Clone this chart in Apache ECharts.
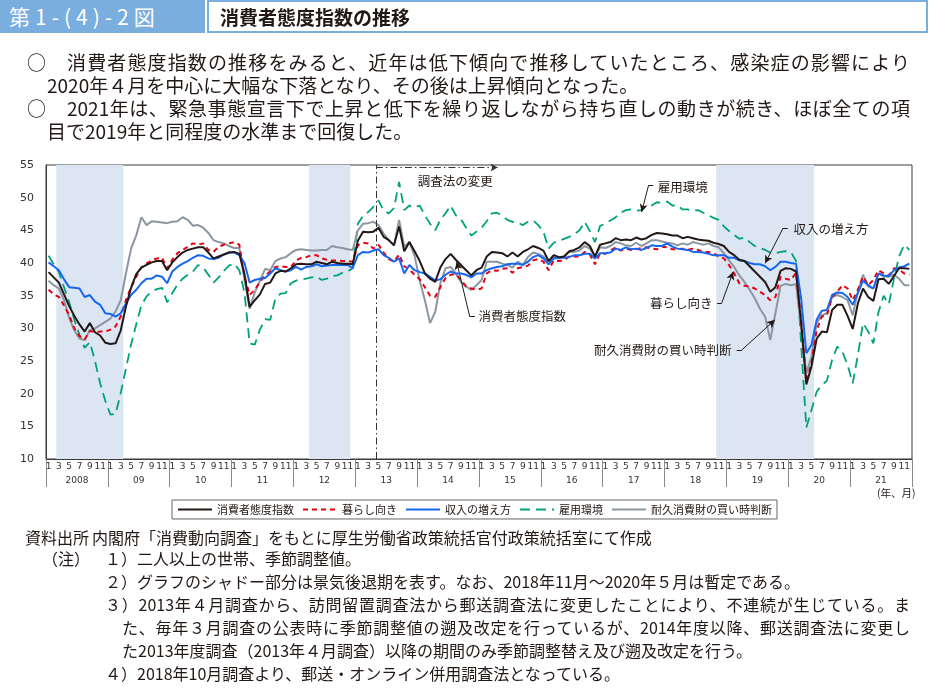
<!DOCTYPE html>
<html lang="ja">
<head>
<meta charset="utf-8">
<script src="https://cdn.jsdelivr.net/npm/echarts@6/dist/echarts.min.js"></script>
<style>
  html, body { margin: 0; padding: 0; background: #fff; }
  #page { position: relative; width: 932px; height: 698px; overflow: hidden; font-family: "Noto Sans CJK JP", "Noto Sans", sans-serif; color: #231815; }
  #chart { position: absolute; left: 0; top: 0; width: 932px; height: 698px; }
  .t { position: absolute; white-space: nowrap; }
  .body { font-size: 19px; line-height: 23px; }
  .just { text-align: justify; text-align-last: justify; white-space: normal; }
  .note { font-size: 16px; line-height: 23px; }
</style>
</head>
<body>
<div id="page">
  <div id="chart"></div>

  <div class="t" style="left:0;top:0;width:205px;height:33px;background:#7aaede;color:#fff;font-size:21px;line-height:33px;padding-left:9px;box-sizing:border-box;letter-spacing:5px;">第1-(4)-2図</div>
  <div class="t" style="left:207px;top:0;width:721px;height:33px;border:2px solid #7aaede;box-sizing:border-box;font-size:19px;font-weight:bold;line-height:29px;padding-left:11px;">消費者態度指数の推移</div>

  <div class="t body" style="left:27px;top:50px;">○</div>
  <div class="t body just" style="left:67px;top:50px;width:843px;">消費者態度指数の推移をみると、近年は低下傾向で推移していたところ、感染症の影響により</div>
  <div class="t body" style="left:47px;top:73px;">2020年４月を中心に大幅な下落となり、その後は上昇傾向となった。</div>
  <div class="t body" style="left:27px;top:96px;">○</div>
  <div class="t body just" style="left:67px;top:96px;width:843px;">2021年は、緊急事態宣言下で上昇と低下を繰り返しながら持ち直しの動きが続き、ほぼ全ての項</div>
  <div class="t body" style="left:47px;top:119px;">目で2019年と同程度の水準まで回復した。</div>

  <div class="t" style="left:877px;top:486px;font-size:10.5px;line-height:14px;">(年、月)</div>

  <div class="t note" style="left:25px;top:526px;">資料出所</div>
  <div class="t note" style="left:92px;top:526px;">内閣府「消費動向調査」をもとに厚生労働省政策統括官付政策統括室にて作成</div>
  <div class="t note" style="left:42px;top:547px;">（注）</div>
  <div class="t note" style="left:105px;top:547px;">１）二人以上の世帯、季節調整値。</div>
  <div class="t note" style="left:105px;top:570px;">２）グラフのシャドー部分は景気後退期を表す。なお、2018年11月～2020年５月は暫定である。</div>
  <div class="t note just" style="left:105px;top:593px;width:805px;">３）2013年４月調査から、訪問留置調査法から郵送調査法に変更したことにより、不連続が生じている。ま</div>
  <div class="t note just" style="left:122px;top:616px;width:788px;">た、毎年３月調査の公表時に季節調整値の遡及改定を行っているが、2014年度以降、郵送調査法に変更し</div>
  <div class="t note" style="left:122px;top:639px;">た2013年度調査（2013年４月調査）以降の期間のみ季節調整替え及び遡及改定を行う。</div>
  <div class="t note" style="left:105px;top:662px;">４）2018年10月調査より、郵送・オンライン併用調査法となっている。</div>
</div>

<script>
// ---------------- data ----------------
const yearLabels = ['2008','09','10','11','12','13','14','15','16','17','18','19','20','21'];
const firstYear = 2008;
const monthNames = ['1','2','3','4','5','6','7','8','9','10','11','12'];

// 消費者態度指数
const sentiment = [
  38.6, 37.8, 37.0, 35.2, 33.4, 31.9, 30.6, 29.5, 30.8, 29.4, 28.9, 27.8,
  27.6, 27.7, 29.7, 33.3, 36.2, 38.3, 39.3, 39.7, 40.1, 40.3, 40.3, 38.9,
  40.1, 40.9, 41.6, 42.0, 42.2, 42.4, 42.4, 41.6, 40.7, 41.0, 41.3, 41.6,
  41.7, 41.4, 38.3, 33.3, 34.3, 35.2, 36.8, 37.0, 38.4, 38.8, 38.7, 39.2,
  39.8, 39.9, 39.8, 39.8, 40.2, 40.0, 39.8, 40.2, 40.0, 39.9, 39.9, 39.8,
  43.4, 44.8, 44.7, 44.8, 45.4, 44.0, 43.5, 42.7, 45.6, 41.8, 43.2, 41.8,
  40.3, 38.4, 37.6, 37.1, 39.3, 40.6, 41.4, 40.5, 39.7, 38.9, 38.1, 38.9,
  39.3, 41.0, 41.7, 41.6, 41.5, 41.0, 41.6, 41.0, 41.7, 42.1, 42.6, 42.3,
  41.9, 40.3, 41.2, 40.9, 41.0, 41.8, 42.0, 42.4, 43.2, 42.6, 41.0, 42.8,
  43.0, 43.2, 43.8, 43.5, 43.6, 43.5, 43.9, 43.6, 43.8, 44.3, 44.6, 44.5,
  44.4, 44.2, 44.2, 43.8, 44.0, 43.8, 43.6, 43.5, 43.4, 43.1, 42.9, 42.6,
  41.7, 41.2, 40.5, 40.3, 39.5, 38.7, 37.9, 37.1, 35.6, 36.3, 38.8, 39.2,
  39.1, 38.7, 30.8, 21.4, 24.2, 28.4, 29.5, 29.4, 32.8, 33.6, 33.6, 31.9,
  29.9, 33.8, 36.1, 34.8, 34.2, 37.5, 37.6, 36.8, 38.0, 39.2, 39.2, 39.1
];
// 暮らし向き
const livelihood = [
  35.9, 35.2, 34.8, 33.5, 32.0, 30.0, 28.8, 28.3, 29.6, 29.4, 29.5, 29.5,
  29.8, 30.3, 31.8, 34.3, 36.3, 37.9, 39.3, 39.9, 40.4, 40.7, 40.8, 39.2,
  40.5, 41.5, 42.0, 42.5, 43.0, 42.8, 43.0, 42.0, 41.7, 42.5, 42.8, 43.0,
  43.2, 42.8, 38.0, 35.1, 35.9, 37.1, 38.1, 38.7, 39.4, 39.5, 39.4, 39.4,
  40.4, 40.8, 40.9, 41.2, 41.2, 40.7, 40.5, 40.4, 40.4, 40.3, 40.3, 40.2,
  42.7, 43.1, 43.0, 42.2, 42.8, 41.6, 40.6, 40.2, 41.3, 39.5, 39.0, 38.2,
  37.5, 36.3, 35.0, 34.8, 36.3, 37.7, 38.2, 38.3, 37.4, 36.4, 36.1, 35.9,
  36.1, 38.4, 38.9, 38.8, 39.1, 39.2, 38.5, 39.2, 39.4, 39.6, 40.4, 40.6,
  40.2, 38.9, 40.4, 40.3, 40.4, 41.0, 41.0, 41.0, 41.7, 41.3, 39.8, 41.5,
  41.4, 41.9, 42.4, 41.9, 42.2, 42.0, 42.1, 42.3, 42.4, 42.2, 42.1, 42.5,
  42.4, 42.1, 42.1, 42.2, 42.0, 42.2, 42.0, 41.7, 41.7, 41.5, 41.0, 40.7,
  39.7, 38.4, 36.9, 36.5, 36.4, 36.1, 35.6, 35.1, 34.3, 34.8, 37.9, 37.6,
  37.4, 38.5, 31.3, 21.8, 24.7, 29.7, 31.8, 32.0, 34.8, 35.6, 36.6, 36.1,
  34.3, 35.9, 37.9, 36.6, 37.4, 38.9, 38.4, 38.1, 39.2, 39.0, 38.4, 38.2
];
// 収入の増え方
const income = [
  40.1, 39.5, 38.9, 37.5, 36.3, 36.2, 36.1, 34.8, 35.1, 34.1, 33.6, 32.3,
  32.2, 31.8, 32.3, 33.8, 35.1, 35.9, 36.9, 37.6, 37.6, 38.1, 37.9, 36.9,
  38.7, 39.4, 39.9, 40.3, 40.8, 41.2, 41.1, 40.7, 40.6, 40.8, 41.3, 41.6,
  41.6, 41.2, 40.0, 37.0, 37.4, 37.6, 37.7, 38.4, 39.2, 38.9, 38.7, 38.9,
  39.4, 39.0, 39.4, 39.5, 39.8, 39.5, 39.6, 39.7, 39.7, 39.7, 39.7, 39.2,
  41.2, 41.7, 41.6, 41.9, 42.1, 41.2, 40.8, 40.2, 40.7, 38.4, 39.7, 38.9,
  38.6, 38.4, 37.9, 37.3, 37.5, 38.2, 38.7, 38.4, 38.4, 38.2, 37.8, 38.4,
  38.4, 38.9, 39.2, 39.4, 39.5, 39.8, 39.9, 39.9, 39.7, 40.2, 40.9, 41.2,
  40.7, 39.8, 40.7, 40.8, 40.8, 40.9, 41.2, 41.2, 41.4, 41.4, 40.7, 41.5,
  41.5, 41.6, 42.2, 42.0, 42.4, 42.1, 42.2, 42.0, 42.3, 42.7, 42.6, 42.6,
  43.0, 42.5, 42.2, 42.1, 42.0, 41.7, 41.7, 41.6, 41.4, 41.2, 41.2, 41.2,
  40.8, 40.8, 40.4, 40.3, 40.0, 39.8, 39.8, 39.5, 38.9, 39.4, 40.2, 40.2,
  40.0, 39.9, 34.5, 26.2, 27.5, 31.3, 32.7, 32.8, 35.1, 35.5, 35.4, 34.8,
  33.6, 35.4, 37.3, 36.6, 36.1, 38.4, 38.1, 38.0, 38.9, 39.3, 39.5, 39.9
];
// 雇用環境
const employment = [
  41.1, 39.8, 38.6, 36.3, 34.0, 31.3, 29.0, 27.0, 27.9, 25.0, 21.6, 18.9,
  16.8, 16.9, 20.1, 23.8, 27.5, 30.6, 33.5, 34.9, 35.6, 36.0, 36.2, 34.0,
  35.4, 36.7, 37.6, 38.2, 38.7, 39.7, 39.3, 38.2, 37.0, 37.8, 38.8, 39.6,
  39.9, 38.9, 35.5, 27.7, 27.5, 29.8, 31.4, 31.3, 34.6, 35.3, 35.4, 36.9,
  37.3, 37.5, 37.6, 37.8, 37.9, 37.4, 37.6, 38.0, 38.1, 38.5, 38.7, 39.2,
  46.0, 47.2, 47.8, 48.6, 49.6, 48.0, 47.6, 48.4, 52.4, 48.1, 48.8, 48.5,
  48.8, 47.3, 46.0, 45.0, 46.6, 47.6, 48.8, 47.3, 46.7, 45.4, 44.2, 44.8,
  45.4, 46.4, 47.6, 47.7, 47.2, 46.6, 46.3, 46.2, 45.8, 46.3, 46.5, 45.8,
  44.8, 42.2, 43.1, 43.4, 43.7, 44.0, 44.4, 45.0, 46.3, 44.9, 43.2, 45.7,
  46.0, 46.5, 47.0, 47.7, 48.1, 48.2, 48.0, 48.1, 48.8, 48.8, 49.3, 49.2,
  49.4, 48.8, 48.8, 48.2, 48.2, 48.0, 48.1, 47.7, 47.3, 46.9, 46.6, 45.6,
  44.9, 44.3, 43.7, 43.9, 43.2, 42.6, 42.3, 42.0, 41.6, 41.5, 41.7, 41.8,
  41.7, 40.3, 27.5, 14.8, 17.5, 20.3, 21.3, 22.0, 25.2, 27.2, 26.4, 24.4,
  21.6, 25.9, 30.8, 29.5, 27.7, 32.5, 35.0, 33.7, 37.6, 41.0, 42.8, 42.0
];
// 耐久消費財の買い時判断
const durables = [
  37.3, 36.6, 36.1, 34.3, 31.6, 29.7, 28.4, 28.2, 29.7, 30.0, 30.5, 31.0,
  31.5, 32.6, 34.3, 38.4, 42.2, 44.2, 47.0, 45.8, 46.4, 46.3, 46.2, 46.1,
  46.3, 46.4, 47.0, 46.6, 45.7, 45.8, 45.4, 44.6, 43.5, 43.2, 43.0, 42.6,
  42.3, 42.3, 37.5, 33.0, 35.5, 37.3, 39.1, 38.9, 40.3, 40.7, 40.9, 41.5,
  42.0, 42.1, 42.0, 41.9, 41.9, 42.0, 42.0, 42.6, 42.4, 42.3, 42.1, 42.0,
  45.0, 46.0, 46.1, 46.3, 45.8, 44.5, 43.5, 42.7, 46.6, 42.5, 43.2, 41.1,
  37.3, 34.3, 30.8, 32.5, 36.9, 39.2, 39.4, 38.4, 37.1, 36.4, 35.9, 36.6,
  37.4, 40.2, 40.2, 40.2, 39.9, 39.7, 39.3, 40.2, 39.7, 40.9, 41.6, 41.4,
  41.0, 40.2, 40.9, 40.7, 40.9, 41.7, 41.7, 41.9, 42.6, 42.2, 41.0, 42.4,
  42.3, 42.6, 43.2, 43.0, 42.7, 42.6, 43.1, 42.6, 43.0, 43.5, 43.5, 43.3,
  43.1, 43.0, 42.7, 43.0, 42.8, 43.2, 43.0, 42.8, 43.0, 42.6, 42.4, 41.5,
  40.4, 39.4, 38.1, 37.1, 35.9, 34.6, 33.0, 31.8, 28.2, 32.3, 36.5, 36.8,
  36.6, 36.8, 30.0, 23.1, 25.7, 30.8, 32.0, 32.3, 34.8, 35.1, 34.8, 34.3,
  32.0, 35.6, 38.2, 36.4, 36.1, 38.4, 37.9, 37.9, 38.2, 37.6, 36.6, 36.6
];

// 景気後退期 (first month, last month)
const recessions = [['2008-3', '2009-3'], ['2012-4', '2012-11'], ['2018-11', '2020-5']];
// 調査法の変更 (last month of old method)
const surveyChangeAfter = '2013-4';

const seriesNames = ['消費者態度指数', '暮らし向き', '収入の増え方', '雇用環境', '耐久消費財の買い時判断'];

// ---------------- build ----------------
const monthKeys = [];
yearLabels.forEach((_, yi) => monthNames.forEach(m => monthKeys.push((firstYear + yi) + '-' + m)));
const idx = k => monthKeys.indexOf(k);
const N = monthKeys.length;

const jp = '"Noto Sans CJK JP", "Noto Sans", sans-serif';
const num = '"DejaVu Sans", sans-serif';
const C = { black: '#231815', red: '#e60012', blue: '#1766f0', green: '#00a27b', gray: '#8b96a2' };

// annotation positions in (month-index, value) space
const changeX = idx(surveyChangeAfter) + 1;
const labels = [
  { text: '調査法の変更', at: [72.0, 52.5], side: 'right' },
  { text: '雇用環境', at: [118.6, 51.6], side: 'right' },
  { text: '収入の増え方', at: [144.9, 45.2], side: 'right' },
  { text: '暮らし向き', at: [129.4, 33.9], side: 'left' },
  { text: '耐久消費財の買い時判断', at: [133.1, 26.7], side: 'left' },
  { text: '消費者態度指数', at: [83.8, 31.8], side: 'right' }
];
const leaders = [
  [[117.8, 51.9], [116.9, 51.9], [115.55, 47.8]],
  [[143.9, 45.35], [143.0, 45.35], [139.5, 39.95]],
  [[130.2, 33.9], [131.1, 33.9], [133.3, 38.65]],
  [[134.0, 26.7], [135.0, 26.7], [141.4, 31.3]],
  [[83.2, 31.8], [82.2, 31.8], [79.67, 40.2]]
];

const markLineData = [
  [{ xAxis: changeX, yAxis: 10, symbol: 'none', lineStyle: { type: [7, 3, 1.5, 3], color: '#333', width: 1 } },
   { xAxis: changeX, yAxis: 55, symbol: 'none' }],
  [{ coord: [changeX, 54.6], symbol: 'none', lineStyle: { type: [7, 3, 1.5, 3], color: '#333', width: 1 } },
   { coord: [87.6, 54.6], symbol: 'arrow', symbolSize: [6, 7] }]
];
leaders.forEach(p => {
  markLineData.push([{ coord: p[0], symbol: 'none', lineStyle: { color: '#231815', width: 1, type: 'solid' } }, { coord: p[1], symbol: 'none' }]);
  markLineData.push([{ coord: p[1], symbol: 'none', lineStyle: { color: '#231815', width: 1, type: 'solid' } }, { coord: p[2], symbol: 'arrow', symbolSize: [6, 8] }]);
});

const lineSeries = (name, data, color, type, z, width) => ({
  name, type: 'line', data, xAxisIndex: 0, yAxisIndex: 0, z,
  symbol: 'none', smooth: false,
  lineStyle: { color, width, type },
  itemStyle: { color },
  emphasis: { disabled: true }
});

const option = {
  animation: false,
  textStyle: { fontFamily: jp },
  grid: { left: 46, right: 20, top: 165, bottom: 239, show: true, borderColor: '#3a3a3a', borderWidth: 1 },
  legend: {
    data: seriesNames,
    left: 172, top: 500,
    orient: 'horizontal',
    itemWidth: 34, itemHeight: 2, itemGap: 8,
    padding: [4, 5, 4, 5],
    borderColor: '#666', borderWidth: 1,
    itemStyle: { opacity: 0 },
    textStyle: { fontFamily: jp, fontSize: 11, color: '#231815' },
    selectedMode: false
  },
  xAxis: [
    {
      type: 'category', data: monthKeys, position: 'bottom', boundaryGap: true,
      axisLine: { show: true, onZero: false, lineStyle: { color: '#3a3a3a' } },
      axisTick: { show: false },
      axisLabel: { interval: 1, formatter: v => v.split('-')[1], fontFamily: num, fontSize: 9, color: '#333', margin: 3 },
      splitLine: { show: false }
    },
    {
      type: 'category', data: yearLabels, position: 'bottom', boundaryGap: true,
      axisLine: { show: false, onZero: false },
      axisTick: { show: true, interval: 0, length: 28, lineStyle: { color: '#8a8a8a' } },
      axisLabel: { interval: 0, fontFamily: num, fontSize: 9, color: '#333', margin: 17 },
      splitLine: { show: false }
    },
    { type: 'value', min: 0, max: N, show: false, position: 'top' }
  ],
  yAxis: {
    type: 'value', min: 10, max: 55, interval: 5,
    axisLine: { show: true, lineStyle: { color: '#3a3a3a' } },
    axisTick: { show: false },
    splitLine: { show: false },
    axisLabel: { fontFamily: num, fontSize: 11, color: '#333', margin: 12 }
  },
  series: [
    {
      name: 'helper', type: 'line', xAxisIndex: 2, yAxisIndex: 0, data: [], z: 1, silent: true,
      markArea: {
        silent: true,
        itemStyle: { color: '#dce6f2' },
        data: recessions.map(r => [{ xAxis: idx(r[0]) }, { xAxis: idx(r[1]) + 1 }])
      },
      markLine: {
        silent: true, animation: false,
        label: { show: false },
        data: markLineData
      },
      markPoint: {
        silent: true,
        symbol: 'rect', symbolSize: 1,
        itemStyle: { color: 'rgba(0,0,0,0)' },
        data: labels.map(l => ({
          coord: l.at, value: l.text,
          label: {
            show: true, position: l.side, distance: 0,
            formatter: l.text, fontFamily: jp, fontSize: 12.5, color: '#231815'
          }
        }))
      }
    },
    lineSeries(seriesNames[3], employment, C.green, [10, 6], 2, 1.8),
    lineSeries(seriesNames[4], durables, C.gray, 'solid', 3, 2),
    lineSeries(seriesNames[1], livelihood, C.red, [5, 4], 4, 2),
    lineSeries(seriesNames[2], income, C.blue, 'solid', 5, 2),
    lineSeries(seriesNames[0], sentiment, C.black, 'solid', 6, 2)
  ]
};

const chart = echarts.init(document.getElementById('chart'), null, { renderer: 'canvas' });
chart.setOption(option);
</script>
</body>
</html>
